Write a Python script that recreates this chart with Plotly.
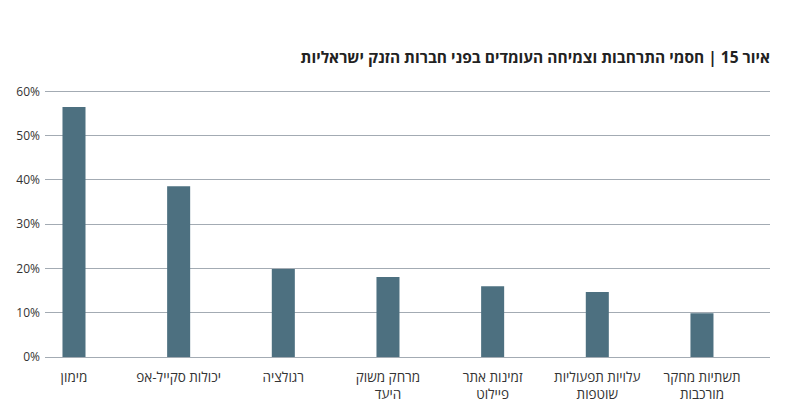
import plotly.graph_objects as go

categories = [
    "מימון",
    "יכולות סקייל-אפ",
    "רגולציה",
    "מרחק משוק<br>היעד",
    "זמינות אתר<br>פיילוט",
    "עלויות תפעוליות<br>שוטפות",
    "תשתיות מחקר<br>מורכבות",
]
values = [56.5, 38.6, 19.9, 18.1, 16.0, 14.7, 9.9]
y_ticks = [0, 10, 20, 30, 40, 50, 60]
y_tick_labels = ["0%", "10%", "20%", "30%", "40%", "50%", "60%"]

FONT = "Open Sans, Liberation Sans, DejaVu Sans, sans-serif"

fig = go.Figure(
    go.Bar(
        x=list(range(len(categories))),
        y=values,
        marker=dict(color="#4d7080", line=dict(width=0)),
        width=0.22,
    )
)

fig.update_layout(
    width=786,
    height=420,
    margin=dict(l=45, r=16, t=87, b=63),
    paper_bgcolor="white",
    plot_bgcolor="white",
    showlegend=False,
    font=dict(family=FONT, color="#333333"),
    title=dict(
        text="<b>איור 15 | חסמי התרחבות וצמיחה העומדים בפני חברות הזנק ישראליות</b>",
        x=770 / 786,
        xanchor="right",
        xref="container",
        y=1 - 58 / 420,
        yanchor="middle",
        font=dict(size=15.5, color="#222222", family=FONT),
    ),
)

fig.update_xaxes(
    range=[-0.277, 6.65],
    tickmode="array",
    tickvals=list(range(len(categories))),
    ticktext=categories,
    showgrid=False,
    zeroline=False,
    showline=False,
    ticks="",
    ticklabelstandoff=10,
    tickfont=dict(size=13.5, color="#333333"),
)

fig.update_yaxes(
    range=[0, 61],
    tickmode="array",
    tickvals=y_ticks,
    ticktext=y_tick_labels,
    showgrid=True,
    gridcolor="#a3abb3",
    gridwidth=1,
    zeroline=True,
    zerolinecolor="#a3abb3",
    zerolinewidth=1,
    showline=False,
    ticks="",
    ticklabelstandoff=4,
    tickfont=dict(size=12, color="#333333"),
)

fig.write_html(
    "out.html",
    config={"displayModeBar": False},
    post_script="document.body.style.margin='0';document.body.style.padding='0';",
)
